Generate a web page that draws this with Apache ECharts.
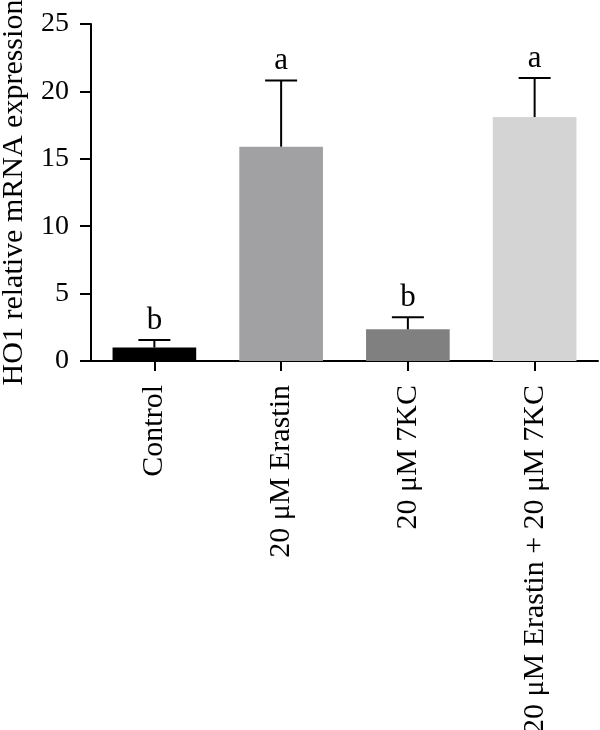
<!DOCTYPE html>
<html>
<head>
<meta charset="utf-8">
<script src="https://cdn.jsdelivr.net/npm/echarts@6/dist/echarts.min.js"></script>
<style>
  html, body { margin: 0; padding: 0; background: #fff; }
  #chart { width: 600px; height: 730px; }
</style>
</head>
<body>
<div id="chart"></div>
<script>
const categories = ['Control', '20 μM Erastin', '20 μM 7KC', '20 μM Erastin + 20 μM 7KC'];
const means = [1.0, 15.9, 2.35, 18.1];
const errors = [0.56, 4.9, 0.9, 2.9];
const letters = ['b', 'a', 'b', 'a'];
const barColors = ['#000000', '#a1a1a3', '#808080', '#d4d4d4'];
const yTicks = [0, 5, 10, 15, 20, 25];

const FONT = '"Liberation Serif", "Times New Roman", serif';

const chart = echarts.init(document.getElementById('chart'));

chart.setOption({
  animation: false,
  grid: { left: 91, right: 2, top: 24, bottom: 369, containLabel: false, outerBoundsMode: 'none' },
  xAxis: {
    type: 'category',
    data: categories,
    axisLine: { lineStyle: { color: '#000', width: 2 } },
    axisTick: { show: true, alignWithLabel: true, length: 10, lineStyle: { color: '#000', width: 2 } },
    axisLabel: {
      rotate: 90, margin: 24, interval: 0,
      color: '#000', fontFamily: FONT, fontSize: 30
    }
  },
  yAxis: {
    type: 'value',
    min: yTicks[0], max: yTicks[yTicks.length - 1], interval: 5,
    name: 'HO1 relative mRNA expression',
    nameLocation: 'middle',
    nameGap: 62,
    nameTextStyle: { color: '#000', fontFamily: FONT, fontSize: 30 },
    axisLine: { show: true, lineStyle: { color: '#000', width: 2 } },
    axisTick: { show: true, length: 11, lineStyle: { color: '#000', width: 2 } },
    axisLabel: { margin: 22, color: '#000', fontFamily: FONT, fontSize: 28 },
    splitLine: { show: false }
  },
  series: [
    {
      type: 'bar',
      barWidth: '66%',
      data: means.map((v, i) => ({ value: v, itemStyle: { color: barColors[i] } })),
      z: 2
    },
    {
      type: 'custom',
      z: 3,
      data: means.map((v, i) => [i, v, v + errors[i]]),
      renderItem: function (params, api) {
        const i = api.value(0);
        const base = api.coord([i, api.value(1)]);
        const top = api.coord([i, api.value(2)]);
        const half = 16;
        return {
          type: 'group',
          children: [
            { type: 'line', shape: { x1: base[0], y1: base[1], x2: top[0], y2: top[1] },
              style: { stroke: '#000', lineWidth: 2 } },
            { type: 'line', shape: { x1: top[0] - half, y1: top[1], x2: top[0] + half, y2: top[1] },
              style: { stroke: '#000', lineWidth: 2 } },
            { type: 'text', x: top[0], y: top[1] - 4,
              style: { text: letters[i], fill: '#000', font: '31px ' + FONT,
                       align: 'center', verticalAlign: 'bottom' } }
          ]
        };
      }
    }
  ]
});
</script>
</body>
</html>
